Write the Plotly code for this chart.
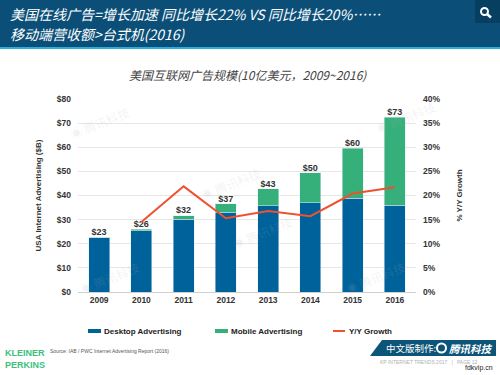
import plotly.graph_objects as go

years = ["2009", "2010", "2011", "2012", "2013", "2014", "2015", "2016"]
desktop = [22.7, 25.4, 30.1, 33.1, 35.8, 36.9, 38.8, 35.9]
mobile = [0.0, 0.6, 1.6, 3.4, 7.0, 12.5, 20.8, 36.6]
total_labels = ["$23", "$26", "$32", "$37", "$43", "$50", "$60", "$73"]
growth = [None, 14.5, 21.9, 15.3, 16.8, 15.7, 20.4, 21.7]
left_ticks = [0, 10, 20, 30, 40, 50, 60, 70, 80]
right_ticks = [0, 5, 10, 15, 20, 25, 30, 35, 40]

BLUE = "#00629b"
GREEN = "#36b07a"
RED = "#ef5130"
TICKFONT = dict(family="Liberation Sans, Arial, sans-serif", size=8.5, color="#333333")

totals = [d + m for d, m in zip(desktop, mobile)]

fig = go.Figure()
fig.add_trace(go.Bar(x=years, y=desktop, name="Desktop Advertising", marker_color=BLUE,
                     width=0.5, showlegend=False))
fig.add_trace(go.Bar(x=years, y=mobile, name="Mobile Advertising", marker_color=GREEN,
                     width=0.5, showlegend=False))
fig.add_trace(go.Scatter(x=years, y=totals, mode="text", text=total_labels,
                         textposition="top center", showlegend=False,
                         textfont=dict(family="Liberation Sans, Arial, sans-serif", size=9, color="#333333"),
                         texttemplate="<b>%{text}</b>", hoverinfo="skip"))
fig.add_trace(go.Scatter(x=years, y=growth, name="Y/Y Growth", mode="lines",
                         line=dict(color=RED, width=2), yaxis="y2", showlegend=False))

fig.update_layout(
    width=500, height=375,
    margin=dict(l=78, r=84, t=99, b=83),
    barmode="stack",
    paper_bgcolor="white", plot_bgcolor="white",
    xaxis=dict(range=[-0.5, 7.5], tickfont=TICKFONT, showgrid=False,
               tickvals=years, ticktext=[f"<b>{y}</b>" for y in years],
               showline=True, linecolor="#d0d0d0", ticks=""),
    yaxis=dict(range=[0, 80], tickvals=left_ticks,
               ticktext=[f"<b>${v}</b>" for v in left_ticks],
               tickfont=TICKFONT, gridcolor="#e6e6e6", zeroline=False, ticks="",
               ticklabelstandoff=6,
               title=dict(text="<b>USA Internet Advertising ($B)</b>",
                          font=dict(family="Liberation Sans, Arial, sans-serif", size=8, color="#333333"),
                          standoff=14)),
    yaxis2=dict(range=[0, 40], overlaying="y", side="right", tickvals=right_ticks,
                ticktext=[f"<b>{v}%</b>" for v in right_ticks],
                tickfont=TICKFONT, showgrid=False, zeroline=False, ticks="",
                ticklabelstandoff=6,
                title=dict(text="<b>% Y/Y Growth</b>",
                           font=dict(family="Liberation Sans, Arial, sans-serif", size=8, color="#333333"),
                           standoff=16)),
    showlegend=False,
)

shapes = []
annotations = []

def px(x):  # pixel x -> paper
    return (x - 78) / 338.0
def py(y):  # pixel y -> paper
    return (292 - y) / 193.0

# header band
shapes.append(dict(type="rect", xref="paper", yref="paper", x0=px(0), x1=px(500), y0=py(47), y1=py(0),
                   fillcolor="#0b4f78", line_width=0, layer="below"))
shapes.append(dict(type="rect", xref="paper", yref="paper", x0=px(0), x1=px(500), y0=py(49), y1=py(47),
                   fillcolor="#27afe0", line_width=0, layer="below"))
shapes.append(dict(type="rect", xref="paper", yref="paper", x0=px(475), x1=px(500), y0=py(23), y1=py(0),
                   fillcolor="#073f60", line_width=0, layer="below"))
shapes.append(dict(type="circle", xref="paper", yref="paper", x0=px(481), x1=px(488), y0=py(15), y1=py(8),
                   line=dict(color="white", width=2)))
shapes.append(dict(type="line", xref="paper", yref="paper", x0=px(487), x1=px(491), y0=py(14), y1=py(17.5),
                   line=dict(color="white", width=2.5)))

annotations.append(dict(xref="paper", yref="paper", x=px(8), y=py(14), xanchor="left", yanchor="middle",
                        text="<i>美国在线广告=增长加速 同比增长22% VS 同比增长20%……</i>", showarrow=False,
                        font=dict(family="Noto Sans CJK SC", size=14, color="white")))
annotations.append(dict(xref="paper", yref="paper", x=px(8), y=py(34), xanchor="left", yanchor="middle",
                        text="<i>移动端营收额>台式机(2016)</i>", showarrow=False,
                        font=dict(family="Noto Sans CJK SC", size=14, color="white")))

# chart title
annotations.append(dict(xref="paper", yref="paper", x=px(248), y=py(74), xanchor="center", yanchor="middle",
                        text="<i>美国互联网广告规模(10亿美元，2009~2016)</i>", showarrow=False,
                        font=dict(family="Noto Sans CJK SC", size=12, color="#444444")))

# watermarks
for (wx, wy) in [(65, 100), (230, 183), (440, 95), (75, 300), (410, 300), (262, 255)]:
    annotations.append(dict(xref="paper", yref="paper", x=px(wx), y=py(wy), showarrow=False,
                            text="◉ 腾讯科技", textangle=-22,
                            font=dict(family="Noto Sans CJK SC", size=12, color="rgba(180,180,180,0.16)")))

# legend (manual)
legend_items = [("Desktop Advertising", BLUE, 88, "bar"),
                ("Mobile Advertising", GREEN, 215, "bar"),
                ("Y/Y Growth", RED, 333, "line")]
for name, col, lx, kind in legend_items:
    if kind == "bar":
        shapes.append(dict(type="rect", xref="paper", yref="paper", x0=px(lx), x1=px(lx + 13),
                           y0=py(333), y1=py(329), fillcolor=col, line_width=0))
    else:
        shapes.append(dict(type="line", xref="paper", yref="paper", x0=px(lx), x1=px(lx + 12),
                           y0=py(331), y1=py(331), line=dict(color=col, width=2)))
    annotations.append(dict(xref="paper", yref="paper", x=px(lx + 14), y=py(331), xanchor="left",
                            yanchor="middle", showarrow=False, text=f"<b>{name}</b>",
                            font=dict(family="Liberation Sans, Arial, sans-serif", size=8, color="#222222")))

# footer: Kleiner Perkins
annotations.append(dict(xref="paper", yref="paper", x=px(3), y=py(359), xanchor="left", yanchor="middle",
                        showarrow=False, align="left",
                        text="<b>KLEINER<br>PERKINS</b>",
                        font=dict(family="Liberation Sans Narrow, Arial Narrow, sans-serif", size=9,
                                  color="#3dbf7b")))
annotations.append(dict(xref="paper", yref="paper", x=px(48), y=py(351), xanchor="left", yanchor="middle",
                        showarrow=False, text="Source: IAB / PWC Internet Advertising Report (2016)",
                        font=dict(family="Liberation Sans, Arial, sans-serif", size=5, color="#555555")))

# footer banner
shapes.append(dict(type="path", xref="paper", yref="paper",
                   path=f"M {px(370)},{py(356)} L {px(382)},{py(340)} L {px(496)},{py(340)} L {px(496)},{py(356)} Z",
                   fillcolor="#0c5478", line_width=0))
annotations.append(dict(xref="paper", yref="paper", x=px(384), y=py(348), xanchor="left", yanchor="middle",
                        showarrow=False, text="中文版制作:",
                        font=dict(family="Noto Sans CJK SC", size=9.5, color="white")))
shapes.append(dict(type="circle", xref="paper", yref="paper", x0=px(437), x1=px(446), y0=py(352.5), y1=py(343.5),
                   line=dict(color="white", width=2)))
annotations.append(dict(xref="paper", yref="paper", x=px(447), y=py(348), xanchor="left", yanchor="middle",
                        showarrow=False, text="<b><i>腾讯科技</i></b>",
                        font=dict(family="Noto Sans CJK SC", size=10.5, color="white")))
annotations.append(dict(xref="paper", yref="paper", x=px(378), y=py(362), xanchor="left", yanchor="middle",
                        showarrow=False, text="KP INTERNET TRENDS 2017   |   PAGE 12",
                        font=dict(family="Liberation Sans, Arial, sans-serif", size=5, color="#b0b0b0")))
annotations.append(dict(xref="paper", yref="paper", x=px(495), y=py(368), xanchor="right", yanchor="middle",
                        showarrow=False, text="fdkvip.cn",
                        font=dict(family="Liberation Sans, Arial, sans-serif", size=7, color="#222222")))

fig.update_layout(shapes=shapes, annotations=annotations)
fig.write_html("out.html", config={"displayModeBar": False},
               post_script="document.body.style.margin='0';document.body.style.overflow='hidden';")
